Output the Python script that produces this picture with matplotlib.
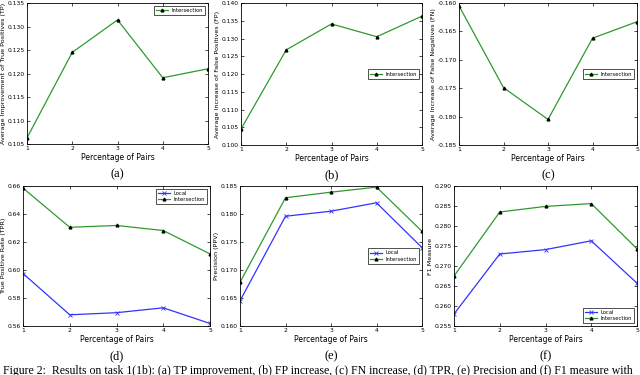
import matplotlib
matplotlib.use('Agg')
import matplotlib.pyplot as plt

pairs = [1, 2, 3, 4, 5]

# (a)-(c): Intersection only
tp_inter = [0.1063, 0.1245, 0.1314, 0.1191, 0.1210]
fp_inter = [0.1045, 0.1268, 0.1341, 0.1305, 0.1363]
fn_inter = [-0.1605, -0.1749, -0.1805, -0.1662, -0.1633]

# (d)-(f): Local vs Intersection
tpr_local = [0.5975, 0.5680, 0.5695, 0.5730, 0.5618]
tpr_inter = [0.6585, 0.6305, 0.6318, 0.6282, 0.6115]
ppv_local = [0.1645, 0.1796, 0.1805, 0.1820, 0.1740]
ppv_inter = [0.1678, 0.1829, 0.1839, 0.1848, 0.1769]
f1_local = [0.2580, 0.2730, 0.2741, 0.2763, 0.2657]
f1_inter = [0.2675, 0.2835, 0.2849, 0.2856, 0.2743]

ylabels = ['Average Improvement of True Positives (TP)',
           'Average Increase of False Positives (FP)',
           'Average Increase of False Negatives (FN)',
           'True Positive Rate (TPR)',
           'Precision (PPV)',
           'F1 Measure']
ylims = [(0.105, 0.135), (0.100, 0.140), (-0.185, -0.160),
         (0.56, 0.66), (0.160, 0.185), (0.255, 0.290)]
yticks = [[0.105, 0.110, 0.115, 0.120, 0.125, 0.130, 0.135],
          [0.100, 0.105, 0.110, 0.115, 0.120, 0.125, 0.130, 0.135, 0.140],
          [-0.185, -0.180, -0.175, -0.170, -0.165, -0.160],
          [0.56, 0.58, 0.60, 0.62, 0.64, 0.66],
          [0.160, 0.165, 0.170, 0.175, 0.180, 0.185],
          [0.255, 0.260, 0.265, 0.270, 0.275, 0.280, 0.285, 0.290]]
yfmt = ['%.3f', '%.3f', '%.3f', '%.2f', '%.3f', '%.3f']
panel_letters = ['(a)', '(b)', '(c)', '(d)', '(e)', '(f)']
legend_locs = ['upper right', 'center right', 'center right',
               'upper right', 'center right', 'lower right']

local_series = [None, None, None, tpr_local, ppv_local, f1_local]
inter_series = [tp_inter, fp_inter, fn_inter, tpr_inter, ppv_inter, f1_inter]

# axes boxes in pixels (left, top, right, bottom) of a 640x375 image
boxes = [(27, 3, 208, 144), (241, 3, 422, 145), (459, 3, 637, 145),
         (23, 186, 210, 326), (240, 186, 422, 326), (454, 186, 637, 326)]

W, H = 640, 375
fig = plt.figure(figsize=(6.4, 3.75), dpi=100)
fig.patch.set_facecolor('white')

blue = '#3333ff'
green = '#2e9a2e'

for i in range(6):
    l, t, r, b = boxes[i]
    ax = fig.add_axes([l / W, 1 - b / H, (r - l) / W, (b - t) / H])
    if local_series[i] is not None:
        ax.plot(pairs, local_series[i], color=blue, marker='x', markersize=2.5,
                markeredgewidth=0.6, linewidth=0.9, label='Local')
    ax.plot(pairs, inter_series[i], color=green, marker='^', markersize=2,
            markerfacecolor='black', markeredgecolor='black', linewidth=0.9,
            label='Intersection')
    ax.set_xlim(1, 5)
    ax.set_xticks(pairs)
    ax.set_ylim(*ylims[i])
    ax.set_yticks(yticks[i])
    ax.set_yticklabels([yfmt[i] % v for v in yticks[i]])
    ax.tick_params(labelsize=4.3, direction='in', top=True, right=True,
                   length=2.5, width=0.5, pad=1.5)
    for s in ax.spines.values():
        s.set_linewidth(0.6)
    ax.set_xlabel('Percentage of Pairs', fontsize=5.5, labelpad=1.5)
    ax.set_ylabel(ylabels[i], fontsize=4.6, labelpad=1)
    leg = ax.legend(loc=legend_locs[i], fontsize=3.8, frameon=True,
                    fancybox=False, borderpad=0.4, handlelength=2.2,
                    labelspacing=0.2)
    leg.get_frame().set_edgecolor('black')
    leg.get_frame().set_linewidth(0.6)
    cx = (l + r) / 2 / W
    fig.text(cx, 1 - (b + 30) / H, panel_letters[i], ha='center', va='center',
             fontsize=9, family='Liberation Serif')

fig.text(0.005, 1 - 365 / H,
         'Figure 2:  Results on task 1(1b): (a) TP improvement, (b) FP increase, (c) FN increase, (d) TPR, (e) Precision and (f) F1 measure with',
         ha='left', va='top', fontsize=8.5, family='Liberation Serif')

fig.savefig('out.png', dpi=100)
